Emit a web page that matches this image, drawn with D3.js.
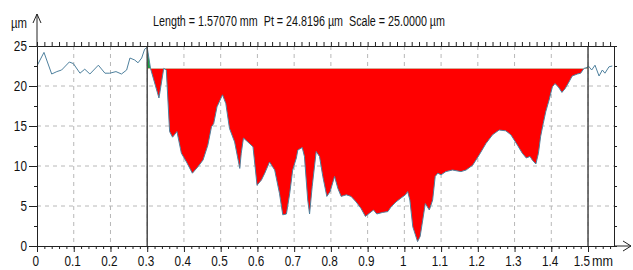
<!DOCTYPE html>
<html>
<head>
<meta charset="utf-8">
<script src="https://cdn.jsdelivr.net/npm/d3@7"></script>
<style>
  body { margin: 0; background: #fff; }
  text { font-family: Arial, "Liberation Sans", sans-serif; fill: #111; }
</style>
</head>
<body>
<script>
var W = 633, H = 270;

// profile points: [position mm, height µm]
var profile = [
  [0.001,22.6],[0.019,24.2],[0.040,21.5],[0.054,21.8],[0.067,22.0],[0.088,23.0],[0.099,22.8],
  [0.117,21.6],[0.130,22.1],[0.144,21.5],[0.167,22.6],[0.185,21.6],[0.198,21.6],[0.215,21.8],
  [0.230,21.5],[0.244,22.0],[0.253,23.5],[0.266,23.25],[0.275,22.9],[0.285,23.5],[0.293,24.6],
  [0.300,24.82],[0.309,22.2],[0.332,18.5],[0.345,22.2],[0.352,22.0],[0.361,14.3],[0.369,13.6],
  [0.381,14.3],[0.393,11.6],[0.407,10.5],[0.423,9.1],[0.438,9.9],[0.452,10.75],[0.465,12.6],
  [0.475,14.9],[0.481,15.3],[0.490,17.4],[0.505,18.9],[0.514,17.8],[0.524,14.7],[0.538,13.0],
  [0.552,9.7],[0.556,11.6],[0.562,13.5],[0.574,13.0],[0.588,12.4],[0.599,7.6],[0.611,8.25],
  [0.620,9.1],[0.633,10.5],[0.647,9.5],[0.660,6.6],[0.669,3.9],[0.679,4.0],[0.688,6.6],
  [0.696,9.5],[0.706,11.0],[0.710,12.0],[0.722,12.3],[0.728,11.2],[0.737,5.75],[0.742,4.0],
  [0.749,7.4],[0.760,11.8],[0.769,11.2],[0.778,8.7],[0.789,6.2],[0.798,6.8],[0.810,8.7],
  [0.819,7.2],[0.828,6.2],[0.842,6.4],[0.855,6.2],[0.869,5.5],[0.882,4.7],[0.894,3.7],
  [0.905,4.1],[0.916,4.5],[0.925,4.0],[0.941,4.2],[0.955,4.3],[0.964,4.9],[0.977,5.5],
  [0.991,6.0],[1.003,6.4],[1.009,6.8],[1.015,5.75],[1.023,2.4],[1.036,0.55],[1.043,1.2],
  [1.050,3.25],[1.057,5.3],[1.068,4.5],[1.077,5.75],[1.084,8.7],[1.091,9.1],[1.100,8.9],
  [1.113,9.3],[1.131,9.5],[1.154,9.3],[1.168,9.5],[1.186,10.1],[1.204,11.4],[1.222,12.8],
  [1.240,13.9],[1.258,14.5],[1.276,14.4],[1.290,13.9],[1.308,12.6],[1.321,11.6],[1.332,11.0],
  [1.342,11.2],[1.349,10.7],[1.358,10.25],[1.365,11.6],[1.371,13.7],[1.378,15.3],[1.385,16.8],
  [1.394,18.25],[1.403,19.9],[1.410,20.3],[1.419,19.9],[1.429,19.2],[1.438,19.7],[1.448,20.5],
  [1.457,21.25],[1.471,21.5],[1.480,21.6],[1.489,22.2],[1.497,22.3],[1.501,22.5],[1.510,22.0],
  [1.519,22.6],[1.530,21.25],[1.539,22.0],[1.546,21.6],[1.557,22.4],[1.566,22.5]
];
var lengthMm = 1.5707;
var cursors = [0.3, 1.5];
var refLevel = 22.2;
var xTicks = [0,0.1,0.2,0.3,0.4,0.5,0.6,0.7,0.8,0.9,1,1.1,1.2,1.3,1.4,1.5];
var yTicks = [0,5,10,15,20,25];
var titleText = "Length = 1.57070 mm  Pt = 24.8196 µm  Scale = 25.0000 µm";

var x = d3.scaleLinear().domain([0, lengthMm]).range([37, 614]);
var y = d3.scaleLinear().domain([0, 25]).range([246, 46]);

var svg = d3.select("body").append("svg").attr("width", W).attr("height", H);
var defs = svg.append("defs");

// grid
svg.append("g").selectAll("line").data(xTicks.filter(function(d){ return d > 0; }))
  .enter().append("line")
  .attr("x1", function(d){ return x(d); }).attr("x2", function(d){ return x(d); })
  .attr("y1", y(25)).attr("y2", y(0))
  .attr("stroke", "#b8b8b8").attr("stroke-dasharray", "4,4");
svg.append("g").selectAll("line").data(yTicks.filter(function(d){ return d > 0 && d < 25; }))
  .enter().append("line")
  .attr("x1", x(0)).attr("x2", x(lengthMm))
  .attr("y1", function(d){ return y(d); }).attr("y2", function(d){ return y(d); })
  .attr("stroke", "#b8b8b8").attr("stroke-dasharray", "4,4");

// fills between reference level and profile, inside cursors
defs.append("clipPath").attr("id", "above").append("rect")
  .attr("x", x(cursors[0])).attr("width", x(cursors[1]) - x(cursors[0]))
  .attr("y", 0).attr("height", y(refLevel));
defs.append("clipPath").attr("id", "below").append("rect")
  .attr("x", x(cursors[0])).attr("width", x(cursors[1]) - x(cursors[0]))
  .attr("y", y(refLevel)).attr("height", H);

var area = d3.area()
  .x(function(d){ return x(d[0]); })
  .y0(y(refLevel))
  .y1(function(d){ return y(d[1]); });

svg.append("path").datum(profile).attr("d", area)
  .attr("fill", "#1f9e3e").attr("clip-path", "url(#above)");
svg.append("path").datum(profile).attr("d", area)
  .attr("fill", "#ff0000").attr("clip-path", "url(#below)");

// profile line
svg.append("path").datum(profile)
  .attr("d", d3.line().x(function(d){ return x(d[0]); }).y(function(d){ return y(d[1]); }))
  .attr("fill", "none").attr("stroke", "#4f819e").attr("stroke-width", 1);

// cursors
svg.append("g").selectAll("line").data(cursors).enter().append("line")
  .attr("x1", function(d){ return x(d); }).attr("x2", function(d){ return x(d); })
  .attr("y1", y(25)).attr("y2", y(0))
  .attr("stroke", "#4a4a4a").attr("stroke-width", 1.5);

// minor ticks
var minorX = d3.range(0, 79).map(function(i){ return i * 0.02; });
var minorY = d3.range(0, 11).map(function(i){ return i * 2.5; });

svg.append("g").attr("transform", "translate(0," + y(0) + ")")
  .call(d3.axisBottom(x).tickValues(minorX).tickSize(3).tickSizeOuter(0).tickFormat(""));
svg.append("g").attr("transform", "translate(0," + y(25) + ")")
  .call(d3.axisTop(x).tickValues(minorX).tickSize(4).tickSizeOuter(0).tickFormat(""));
svg.append("g").attr("transform", "translate(" + x(0) + ",0)")
  .call(d3.axisLeft(y).tickValues(minorY).tickSize(3).tickSizeOuter(0).tickFormat(""));
svg.append("g").attr("transform", "translate(" + x(lengthMm) + ",0)")
  .call(d3.axisRight(y).tickValues(minorY).tickSize(3).tickSizeOuter(0).tickFormat(""));

// major ticks with labels
var gx = svg.append("g").attr("class", "xaxis").attr("transform", "translate(0," + y(0) + ")")
  .call(d3.axisBottom(x).tickValues(xTicks).tickSize(6).tickSizeOuter(0)
    .tickFormat(function(d){ return String(+d.toFixed(1)); }));
var gy = svg.append("g").attr("class", "yaxis").attr("transform", "translate(" + x(0) + ",0)")
  .call(d3.axisLeft(y).tickValues(yTicks).tickSize(8).tickSizeOuter(0));

svg.selectAll("g.tick line").attr("stroke", "#222");
svg.selectAll(".domain").attr("stroke", "#222");

gx.selectAll("text").attr("font-size", 14).attr("font-family", null)
  .attr("y", 10)
  .attr("x", function(d){ return d === 1.5 ? -8 : -2; })
  .attr("transform", "scale(0.84,1)");
gy.selectAll("text").attr("font-size", 14).attr("font-family", null)
  .attr("x", -12).attr("transform", "scale(0.84,1)");

// extended axis lines with arrows
svg.append("line").attr("x1", x(lengthMm)).attr("x2", 631).attr("y1", y(0)).attr("y2", y(0)).attr("stroke", "#222");
svg.append("path").attr("d", "M623,241L631,246L623,251").attr("fill", "none").attr("stroke", "#222");
svg.append("line").attr("x1", x(0)).attr("x2", x(0)).attr("y1", y(25)).attr("y2", 14).attr("stroke", "#222");
svg.append("path").attr("d", "M33,23L37,14L41,23").attr("fill", "none").attr("stroke", "#222");

// units
svg.append("text").attr("x", 592).attr("y", 266).attr("font-size", 14)
  .attr("textLength", 21).attr("lengthAdjust", "spacingAndGlyphs").text("mm");
svg.append("text").attr("x", 11).attr("y", 28).attr("font-size", 14)
  .attr("textLength", 16).attr("lengthAdjust", "spacingAndGlyphs").text("µm");

// title
svg.append("text").attr("x", 153).attr("y", 26).attr("font-size", 14)
  .style("white-space", "pre")
  .attr("textLength", 292).attr("lengthAdjust", "spacingAndGlyphs").text(titleText);
</script>
</body>
</html>
